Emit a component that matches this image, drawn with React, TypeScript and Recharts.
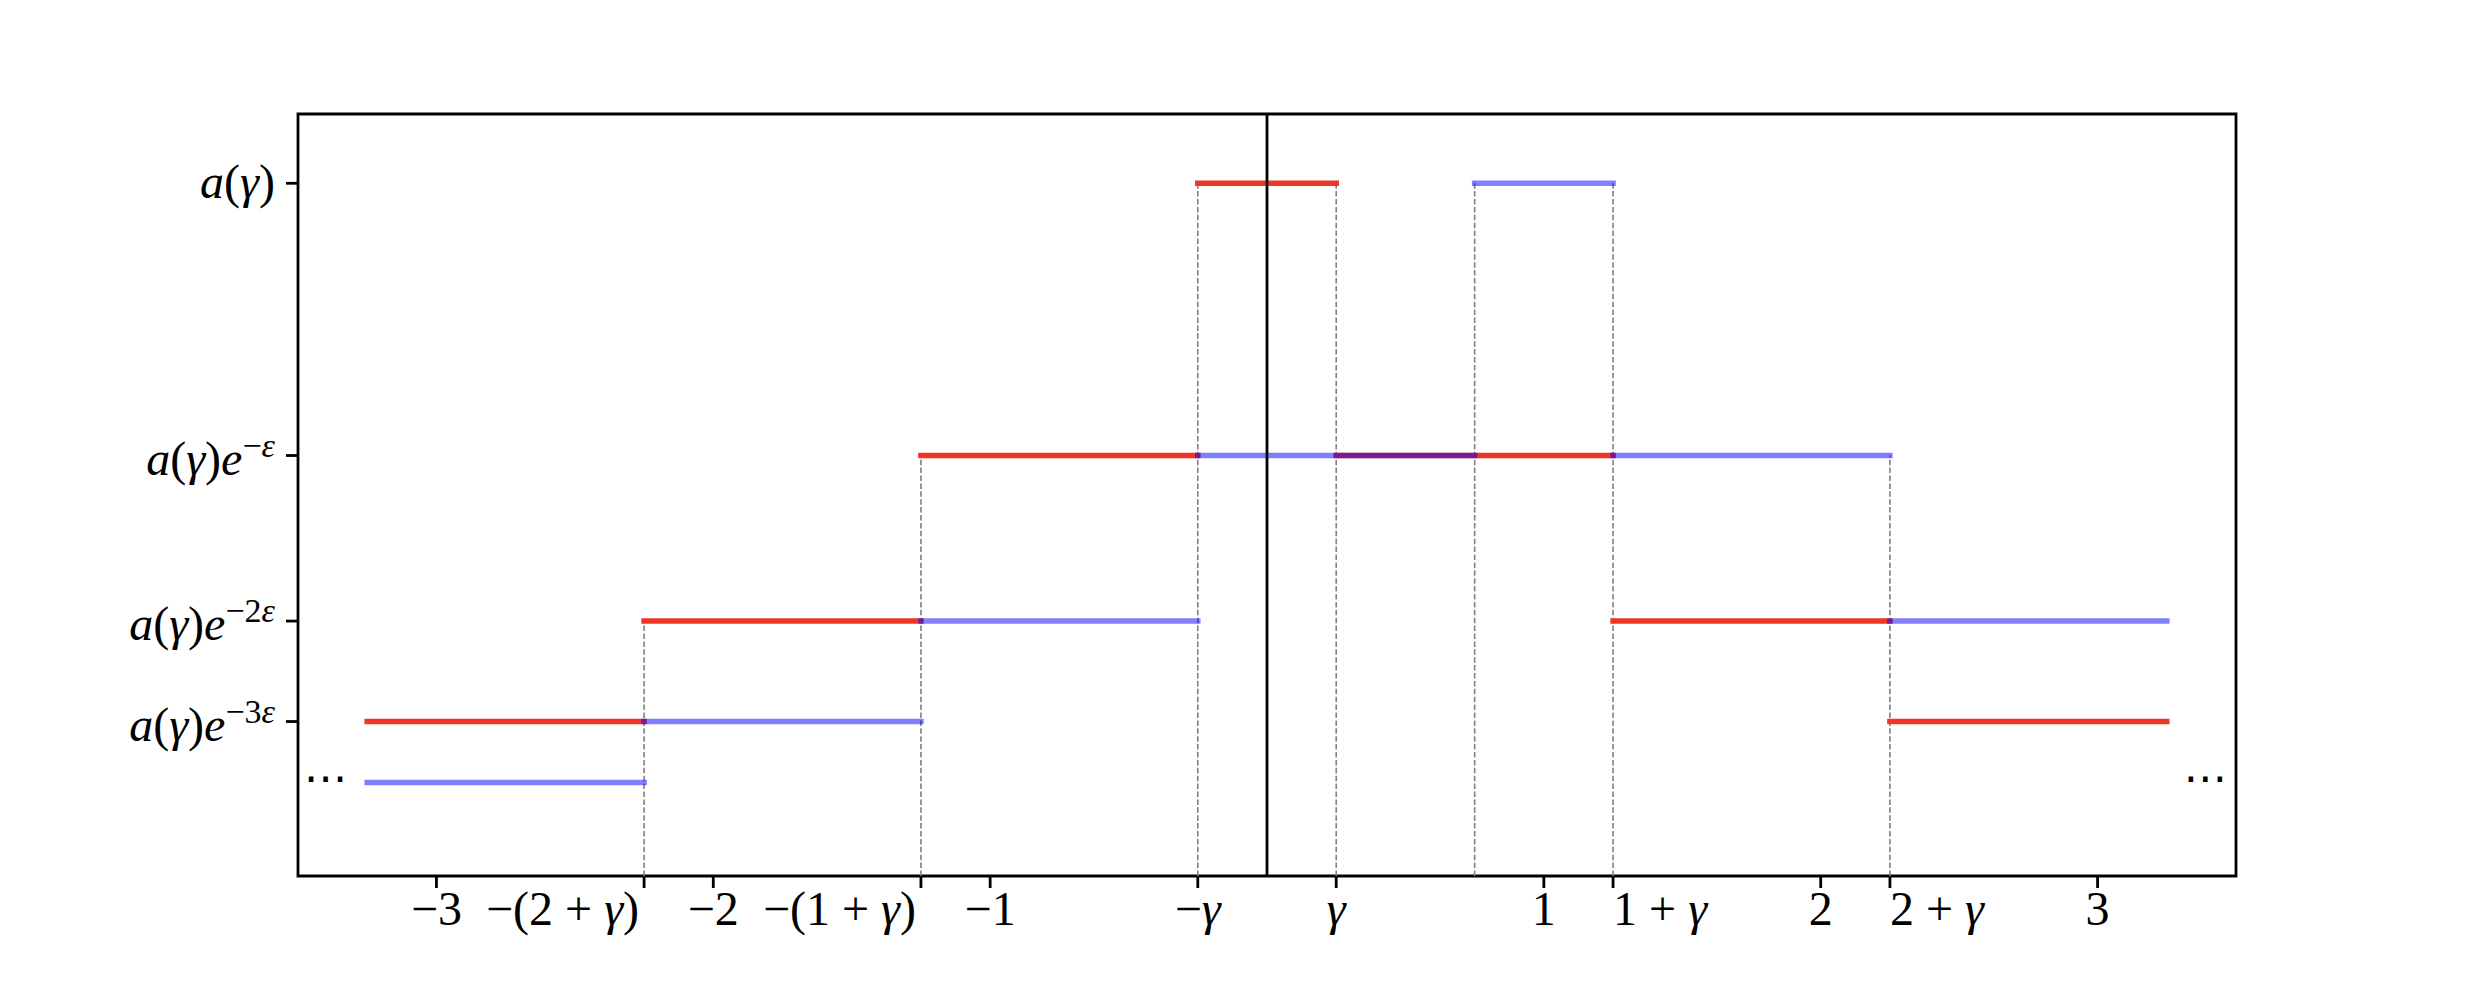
import React from "react";
import {
  ComposedChart,
  XAxis,
  YAxis,
  ReferenceLine,
  ReferenceArea,
  ReferenceDot,
} from "recharts";

// red step function (segments start / end / level)
const redStart = [-3.25, -2.25, -1.25, -0.25, 0.25, 1.25, 2.25];
const redEnd = [-2.25, -1.25, -0.25, 0.25, 1.25, 2.25, 3.25];
const redLevel = [0.223, 0.368, 0.607, 1, 0.607, 0.368, 0.223];

// blue step function, shifted copy
const blueStart = [-3.25, -2.25, -1.25, -0.25, 0.75, 1.25, 2.25];
const blueEnd = [-2.25, -1.25, -0.25, 0.75, 1.25, 2.25, 3.25];
const blueLevel = [0.135, 0.223, 0.368, 0.607, 1, 0.607, 0.368];

// grey dashed guides from the axis up to the step
const guideX = [-2.25, -1.25, -0.25, 0.25, 0.75, 1.25, 2.25];
const guideTop = [0.368, 0.607, 1, 1, 1, 1, 0.607];

const xTickValues = [-3, -2.25, -2, -1.25, -1, -0.25, 0.25, 1, 1.25, 2, 2.25, 3];
const xTickLabels = ["−3", "−(2 + γ)", "−2", "−(1 + γ)", "−1", "−γ", "γ", "1", "1 + γ", "2", "2 + γ", "3"];

const yTickValues = [1, 0.607, 0.368, 0.223];
const yTickBase = ["a(γ)", "a(γ)e", "a(γ)e", "a(γ)e"];
const yTickExponents = ["", "−ε", "−2ε", "−3ε"];

const dotsX = [-3.4, 3.39];
const dotsY = 0.14;

const X_DOMAIN: [number, number] = [-3.5, 3.5];
const Y_DOMAIN: [number, number] = [0, 1.1];

const FONT = "'Liberation Serif', 'DejaVu Serif', serif";
const FONT_SIZE = 48;
const SUP_SIZE = 34;
const RED = "#ee3526";
const BLUE = "#0000ff";
const LW = 5.5;
const SPINE = 2.8;

const italic = /[aeγε]/;

function mathSpans(s: string, key: string) {
  return Array.from(s).map((ch, i) => (
    <tspan key={key + i} fontStyle={italic.test(ch) ? "italic" : "normal"}>
      {ch}
    </tspan>
  ));
}

// -(k+γ) labels hang left of their tick, k+γ labels start at their tick
function anchorFor(label: string) {
  if (label.startsWith("−(")) return "end";
  if (label.includes("+")) return "start";
  return "middle";
}

const XTick = (props: any) => {
  const { x, y, payload } = props;
  const idx = xTickValues.indexOf(payload.value);
  const label = idx >= 0 ? xTickLabels[idx] : String(payload.value);
  const anchor = anchorFor(label);
  const shift = anchor === "end" ? -5 : 0;
  return (
    <text
      x={x + shift}
      y={y + 37}
      textAnchor={anchor}
      fontFamily={FONT}
      fontSize={FONT_SIZE}
      fill="#000"
      style={{ whiteSpace: "pre" }}
    >
      {mathSpans(label, "x")}
    </text>
  );
};

const YTick = (props: any) => {
  const { x, y, payload } = props;
  const idx = yTickValues.indexOf(payload.value);
  const base = yTickBase[idx];
  const exp = yTickExponents[idx];
  return (
    <text
      x={x}
      y={y + (exp ? 19 : 15)}
      textAnchor="end"
      fontFamily={FONT}
      fontSize={FONT_SIZE}
      fill="#000"
    >
      {mathSpans(base, "y")}
      {exp ? (
        <tspan dy={-18} fontSize={SUP_SIZE}>
          {mathSpans(exp, "e")}
        </tspan>
      ) : null}
    </text>
  );
};

const Dots = (props: any) => {
  const { cx, cy } = props;
  return (
    <text
      x={cx}
      y={cy + 14}
      textAnchor="middle"
      fontFamily="'DejaVu Sans', sans-serif"
      fontSize={44}
      fill="#000"
    >
      ⋯
    </text>
  );
};

export default function App() {
  return (
    <div style={{ position: "fixed", left: 0, top: 0, background: "#fff" }}>
      <ComposedChart
        width={2475}
        height={981}
        data={[]}
        margin={{ top: 114, right: 239, bottom: 5, left: 8 }}
      >
        <XAxis
          type="number"
          dataKey="x"
          domain={X_DOMAIN}
          ticks={xTickValues}
          interval={0}
          allowDataOverflow
          axisLine={false}
          tickLine={{ stroke: "#000", strokeWidth: SPINE }}
          tickSize={12}
          tickMargin={0}
          height={100}
          tick={<XTick />}
        />
        <YAxis
          type="number"
          domain={Y_DOMAIN}
          ticks={yTickValues}
          interval={0}
          allowDataOverflow
          axisLine={false}
          tickLine={{ stroke: "#000", strokeWidth: SPINE }}
          tickSize={12}
          tickMargin={11}
          width={290}
          tick={<YTick />}
        />

        {guideX.map((gx, i) => (
          <ReferenceLine
            key={"g" + i}
            segment={[
              { x: gx, y: 0 },
              { x: gx, y: guideTop[i] },
            ]}
            stroke="#808080"
            strokeWidth={1.6}
            strokeDasharray="5.5 2.4"
          />
        ))}

        {redStart.map((s, i) => (
          <ReferenceLine
            key={"r" + i}
            segment={[
              { x: s, y: redLevel[i] },
              { x: redEnd[i], y: redLevel[i] },
            ]}
            stroke={RED}
            strokeWidth={LW}
            strokeLinecap="square"
          />
        ))}

        {blueStart.map((s, i) => (
          <ReferenceLine
            key={"b" + i}
            segment={[
              { x: s, y: blueLevel[i] },
              { x: blueEnd[i], y: blueLevel[i] },
            ]}
            stroke={BLUE}
            strokeOpacity={0.5}
            strokeWidth={LW}
            strokeLinecap="square"
          />
        ))}

        <ReferenceLine x={0} stroke="#000" strokeWidth={SPINE} />

        {dotsX.map((dx, i) => (
          <ReferenceDot key={"d" + i} x={dx} y={dotsY} r={0} shape={<Dots />} />
        ))}

        <ReferenceArea
          x1={X_DOMAIN[0]}
          x2={X_DOMAIN[1]}
          y1={Y_DOMAIN[0]}
          y2={Y_DOMAIN[1]}
          fill="none"
          stroke="#000"
          strokeWidth={SPINE}
        />
      </ComposedChart>
    </div>
  );
}
